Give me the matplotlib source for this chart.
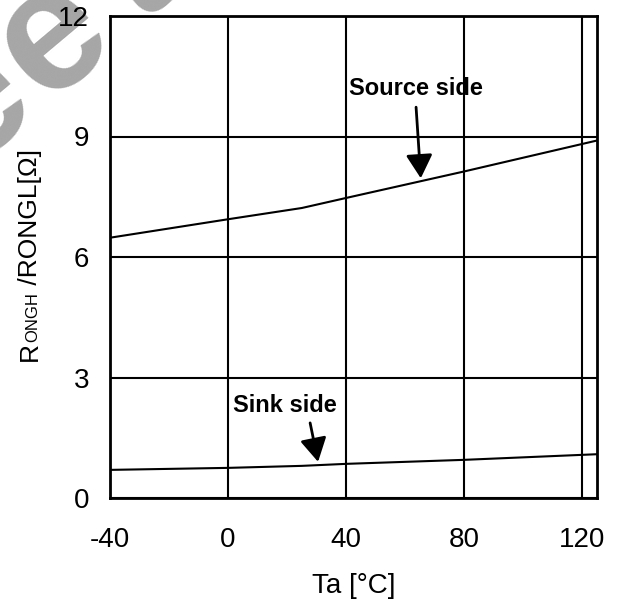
import matplotlib
matplotlib.use("Agg")
import matplotlib.pyplot as plt
import numpy as np
from matplotlib.patches import FancyArrowPatch

plt.rcParams['font.family'] = ['Liberation Sans', 'DejaVu Sans']
plt.rcParams['axes.unicode_minus'] = False

# data
ta = [-40, 0, 25, 40, 80, 125]
source_side = [6.48, 6.94, 7.22, 7.47, 8.13, 8.9]
sink_side = [0.70, 0.75, 0.80, 0.85, 0.95, 1.09]
xticks = [-40, 0, 40, 80, 120]
yticks = [0, 3, 6, 9, 12]

W, H = 624, 605
fig = plt.figure(figsize=(W / 100, H / 100), dpi=100)
ax = fig.add_axes([110 / W, 1 - 498 / H, (597 - 110) / W, (498 - 16) / H])

ax.set_xlim(-40, 125)
ax.set_ylim(0, 12)
ax.set_xticks(xticks)
ax.set_yticks(yticks)
ax.set_xticklabels([str(v) for v in xticks])
ax.set_yticklabels([str(v) for v in yticks])
ax.tick_params(length=0, labelsize=20)
ax.tick_params(axis='x', pad=21)
ax.tick_params(axis='y', pad=15)
ax.grid(True, color='black', linewidth=1.5)
for s in ax.spines.values():
    s.set_linewidth(2)
    s.set_color('black')

ax.plot(ta, source_side, color='black', linewidth=1.5, zorder=3)
ax.plot(ta, sink_side, color='black', linewidth=1.5, zorder=3)

ax.text(63.7, 10.2, 'Source side', fontsize=17, fontweight='bold', ha='center', va='center')
ax.text(19.3, 2.31, 'Sink side', fontsize=17, fontweight='bold', ha='center', va='center')
for (x0, y0), (x1, y1) in [((63.7, 9.73), (65.3, 7.96)), ((27.8, 1.87), (30.5, 0.9))]:
    ax.add_patch(FancyArrowPatch((x0, y0), (x1, y1), arrowstyle='-|>,head_length=0.8,head_width=0.45',
                                 mutation_scale=18, color='black', linewidth=2, shrinkA=0, shrinkB=0, zorder=4))

ax.set_xlabel('Ta [°C]', fontsize=20, labelpad=14)

# composite y label: R + small ONGH + " /RONGL[Ω]"
fig.canvas.draw()
r = fig.canvas.get_renderer()
xb = 37 / W
y = 1 - 361 / H
for txt, fs in [('R', 19), ('ONGH', 12), (' /RONGL[Ω]', 19)]:
    t = fig.text(xb, y, txt, fontsize=fs, rotation=90, rotation_mode='anchor',
                 ha='left', va='baseline')
    bb = t.get_window_extent(renderer=r)
    y += bb.height / H

# watermark fragment (letters along a 40 degree diagonal)
ang = np.deg2rad(40)
for i, ch in enumerate(['e', 'e', 't']):
    cx = 52 + (i - 1) * 102 * np.cos(ang)
    cy = 38 - (i - 1) * 102 * np.sin(ang)
    fig.text(cx / W, 1 - cy / H, ch, fontsize=125, fontweight='bold', color='#a6a6a6',
             rotation=40, rotation_mode='anchor', ha='center', va='center', zorder=-1)

fig.savefig('out.png', dpi=100)
